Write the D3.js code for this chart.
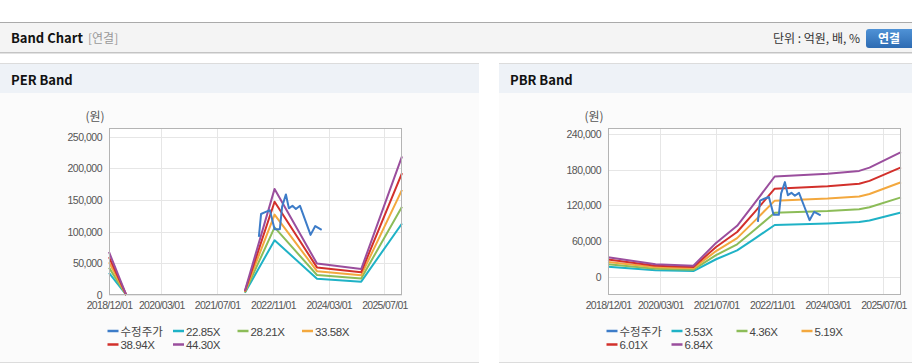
<!DOCTYPE html>
<html><head><meta charset="utf-8">
<script src="https://cdn.jsdelivr.net/npm/d3@7"></script>
<style>
body{margin:0;background:#fff;}
svg{display:block;font-family:"Liberation Sans","Noto Sans CJK KR",sans-serif;}
</style>
</head><body>
<svg id="c" width="912" height="364"></svg>
<script>
// ---------- data ----------
const xTickDates = ["2018-12-01","2020-03-01","2021-07-01","2022-11-01","2024-03-01","2025-07-01"];
const perYTicks = [0, 50000, 100000, 150000, 200000, 250000];
const pbrYTicks = [0, 60000, 120000, 180000, 240000];

const perLabels = ["22.85X","28.21X","33.58X","38.94X","44.30X"];
const pbrLabels = ["3.53X","4.36X","5.19X","6.01X","6.84X"];
const priceLabel = "수정주가";

const perDates = ["2018-12-01","2019-05-01","2020-06-01","2022-03-01","2022-11-15","2023-11-20","2024-12-10","2025-12-01"];
const per1 = [35075, 0, null, 3428, 86510, 25592, 21136, 113108];
const per2 = [43302, 0, null, 4232, 106803, 31595, 26094, 139640];
const per3 = [51545, 0, null, 5037, 127134, 37610, 31062, 166221];
const per4 = [59773, 0, null, 5841, 147427, 43613, 36020, 192753];
const per5 = [68000, 0, null, 6645, 167720, 49616, 40978, 219285];

const pbrDates = ["2018-12-01","2020-01-20","2020-12-15","2021-07-01","2022-01-01","2022-06-01","2022-11-25","2024-03-01","2024-12-01","2025-03-01","2025-12-01"];
const pbr1 = [16873, 10802, 9531, 29299, 44125, 63540, 86944, 89309, 91780, 94604, 108018];
const pbr2 = [20841, 13342, 11772, 36188, 54500, 78480, 107387, 110308, 113360, 116848, 133416];
const pbr3 = [24808, 15881, 14013, 43077, 64875, 93420, 127830, 131307, 134940, 139092, 158814];
const pbr4 = [28728, 18391, 16227, 49883, 75125, 108180, 148026, 152053, 156260, 161068, 183906];
const pbr5 = [32695, 20930, 18468, 56772, 85500, 123120, 168469, 173052, 177840, 183312, 209304];

const priceDates = ["2022-07-01","2022-07-20","2022-08-25","2022-10-05","2022-11-15","2022-12-31","2023-01-20","2023-02-22","2023-03-20","2023-04-20","2023-05-20","2023-06-25","2023-08-10","2023-09-25","2023-11-05","2023-12-31"];
const priceValues = [92000, 128000, 131000, 134000, 104000, 104000, 140000, 159000, 137000, 141000, 136000, 141000, 118000, 95000, 109000, 103000];

const colors = ["#3d7cc8","#1fb2c6","#8cbc58","#f3a83e","#d2302b","#9a4e9d"];

// ---------- page chrome ----------
const svg = d3.select("#c");
const parse = d3.timeParse("%Y-%m-%d");
const fmtDate = d3.timeFormat("%Y/%m/%d");
const tickFont = "'Liberation Sans',sans-serif";

svg.append("rect").attr("x",0).attr("y",0).attr("width",912).attr("height",364).attr("fill","#fff");
svg.append("rect").attr("x",0).attr("y",22).attr("width",912).attr("height",31).attr("fill","#f4f4f4");
svg.append("line").attr("x1",0).attr("x2",912).attr("y1",22.5).attr("y2",22.5).attr("stroke","#aaa");
svg.append("line").attr("x1",0).attr("x2",912).attr("y1",52.5).attr("y2",52.5).attr("stroke","#c4c4c4");
svg.append("line").attr("x1",0).attr("x2",912).attr("y1",53.5).attr("y2",53.5).attr("stroke","#e2e2e2");
svg.append("text").attr("x",11).attr("y",43).attr("font-size",13).attr("font-weight","bold")
  .attr("fill","#111").attr("font-family","'Noto Sans CJK KR',sans-serif").text("Band Chart");
svg.append("text").attr("x",88).attr("y",43).attr("font-size",12).attr("fill","#999")
  .attr("font-family","'Noto Sans CJK KR',sans-serif").text("[연결]");
svg.append("text").attr("x",860).attr("y",43).attr("font-size",12).attr("fill","#333").attr("text-anchor","end")
  .attr("font-family","'Noto Sans CJK KR',sans-serif").text("단위 : 억원, 배, %");
const grad = svg.append("defs").append("linearGradient").attr("id","btn").attr("x1",0).attr("x2",0).attr("y1",0).attr("y2",1);
grad.append("stop").attr("offset","0%").attr("stop-color","#4f92d6");
grad.append("stop").attr("offset","100%").attr("stop-color","#2d6bb2");
svg.append("rect").attr("x",866).attr("y",29).attr("width",50).attr("height",19).attr("rx",3).attr("fill","url(#btn)");
svg.append("text").attr("x",889).attr("y",43).attr("font-size",12).attr("font-weight","bold").attr("fill","#fff")
  .attr("text-anchor","middle").attr("font-family","'Noto Sans CJK KR',sans-serif").text("연결");

// ---------- panels ----------
function panel(x0, w, title){
  svg.append("rect").attr("x",x0).attr("y",64).attr("width",w).attr("height",298).attr("fill","#fbfbfb");
  svg.append("rect").attr("x",x0).attr("y",64).attr("width",w).attr("height",29).attr("fill","#eef2f7");
  svg.append("line").attr("x1",x0).attr("x2",x0+w).attr("y1",63.5).attr("y2",63.5).attr("stroke","#dcdcdc");
  svg.append("line").attr("x1",x0).attr("x2",x0+w).attr("y1",362.5).attr("y2",362.5).attr("stroke","#dcdcdc");
  svg.append("text").attr("x",x0+11).attr("y",85).attr("font-size",13).attr("font-weight","bold")
    .attr("fill","#111").attr("font-family","'Noto Sans CJK KR',sans-serif").text(title);
}
panel(0, 479, "PER Band");
panel(499, 413, "PBR Band");

// ---------- chart ----------
function chart(cfg){
  const g = svg.append("g");
  const x = d3.scaleTime().domain([parse("2018-12-01"), parse("2025-12-01")]).range([cfg.left, cfg.right]);
  const y = d3.scaleLinear().domain(cfg.yDomain).range([cfg.bottom, cfg.top]);

  g.append("rect").attr("x",cfg.left).attr("y",cfg.top).attr("width",cfg.right-cfg.left)
    .attr("height",cfg.bottom-cfg.top).attr("fill","#fff");

  // grid
  g.selectAll(".hg").data(cfg.yTicks).enter().append("line")
    .attr("x1",cfg.left).attr("x2",cfg.right)
    .attr("y1",d=>Math.round(y(d))+0.5).attr("y2",d=>Math.round(y(d))+0.5)
    .attr("stroke","#e6e6e6");
  g.selectAll(".vg").data(xTickDates.map(parse)).enter().append("line")
    .attr("y1",cfg.top).attr("y2",cfg.bottom)
    .attr("x1",d=>Math.round(x(d))+0.5).attr("x2",d=>Math.round(x(d))+0.5)
    .attr("stroke","#e6e6e6");

  // axes
  const ya = g.append("g").attr("transform",`translate(${cfg.left},0)`)
    .call(d3.axisLeft(y).tickValues(cfg.yTicks).tickSize(0).tickPadding(7).tickFormat(d3.format(",")));
  ya.select(".domain").remove();
  ya.selectAll("text").attr("font-size",10.5).attr("letter-spacing","-0.5px").attr("fill","#555")
    .attr("font-family",tickFont);
  const xa = g.append("g").attr("transform",`translate(0,${cfg.bottom})`)
    .call(d3.axisBottom(x).tickValues(xTickDates.map(parse)).tickSize(0).tickPadding(7).tickFormat(fmtDate));
  xa.select(".domain").remove();
  xa.selectAll("text").attr("font-size",10.5).attr("letter-spacing","-0.7px").attr("fill","#555")
    .attr("font-family",tickFont);

  g.append("text").attr("x",cfg.left-14).attr("y",121).attr("font-size",12).attr("fill","#555")
    .attr("text-anchor","middle").attr("font-family","'Noto Sans CJK KR',sans-serif").text("(원)");

  // bands
  const bandDates = cfg.dates.map(parse);
  const line = d3.line().defined(d=>d[1]!==null).x(d=>x(d[0])).y(d=>y(d[1]));
  cfg.bands.forEach((vals,i)=>{
    g.append("path").datum(vals.map((v,j)=>[bandDates[j], v]))
      .attr("d", line).attr("fill","none").attr("stroke",colors[i+1]).attr("stroke-width",2)
      .attr("stroke-linejoin","round");
  });
  // price
  g.append("path").datum(priceValues.map((v,j)=>[parse(priceDates[j]), v]))
    .attr("d", line).attr("fill","none").attr("stroke",colors[0]).attr("stroke-width",2)
    .attr("stroke-linejoin","round");

  // border
  g.append("rect").attr("x",cfg.left+0.5).attr("y",cfg.top+0.5).attr("width",cfg.right-cfg.left-1)
    .attr("height",cfg.bottom-cfg.top-1).attr("fill","none").attr("stroke","#b4b4b4");

  // legend
  const names = [priceLabel].concat(cfg.labels);
  names.forEach((n,i)=>{
    const col = i<4 ? i : i-4;
    const row = i<4 ? 0 : 1;
    const lx = cfg.legendX + col*cfg.legendStep + (col>0 ? cfg.legendExtra : 0);
    const ly = 331 + row*13.5;
    g.append("line").attr("x1",lx).attr("x2",lx+11).attr("y1",ly).attr("y2",ly)
      .attr("stroke",colors[i]).attr("stroke-width",2.5);
    const t = g.append("text").attr("x",lx+13).attr("y",ly+4.5).attr("fill","#444").text(n);
    if (i===0) t.attr("font-size",11.5).attr("font-family","'Noto Sans CJK KR',sans-serif");
    else t.attr("font-size",11.5).attr("letter-spacing","-0.4px").attr("font-family",tickFont);
  });
}

chart({left:109, right:402, top:128, bottom:295, yDomain:[0,264000], yTicks:perYTicks,
  dates:perDates, bands:[per1,per2,per3,per4,per5], labels:perLabels,
  legendX:107.5, legendStep:64.5, legendExtra:1});
chart({left:608, right:901, top:128, bottom:295, yDomain:[-30800,250000], yTicks:pbrYTicks,
  dates:pbrDates, bands:[pbr1,pbr2,pbr3,pbr4,pbr5], labels:pbrLabels,
  legendX:606.5, legendStep:65, legendExtra:0});
</script>
</body></html>
